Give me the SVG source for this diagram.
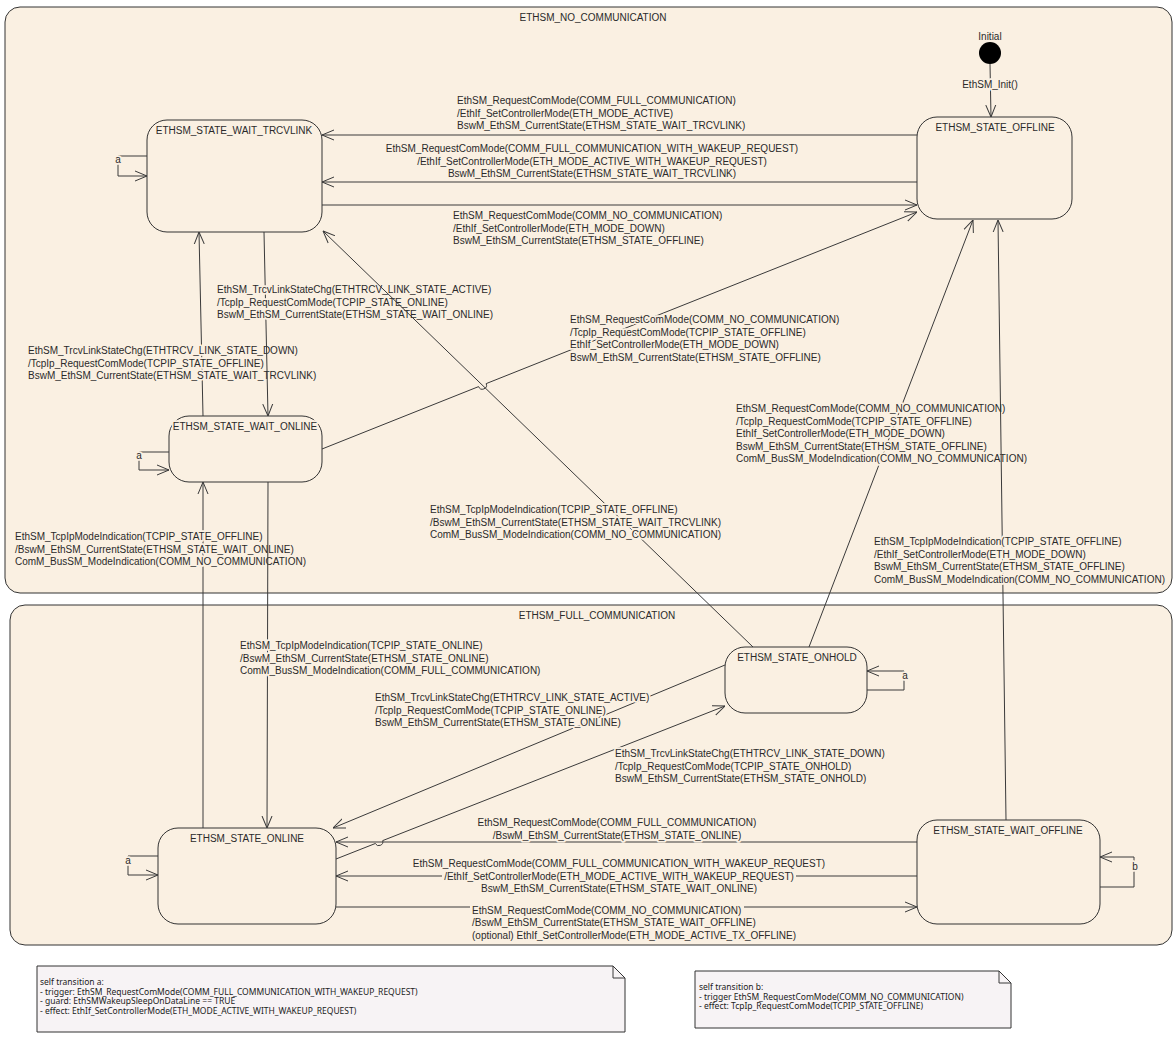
<svg xmlns="http://www.w3.org/2000/svg" width="1176" height="1042" viewBox="0 0 1176 1042">
<defs>
<style>
.comp{fill:#FAF0E2;stroke:#333;stroke-width:1}
.st{fill:#FAF0E2;stroke:#333;stroke-width:1}
.t{font-family:"Liberation Sans",Arial,sans-serif;font-size:10px;fill:#2a2a2a;paint-order:stroke;stroke:#FAF0E2;stroke-width:3.5px;stroke-linejoin:round}
.m{text-anchor:middle}
.e{fill:none;stroke:#3a3a3a;stroke-width:1}
.note{fill:#F7F3F5;stroke:#333;stroke-width:1}
.nt{font-family:"Noto Sans","Open Sans",sans-serif;font-size:8.5px;fill:#222}
</style>
<marker id="ar" viewBox="0 0 12 12" refX="12" refY="6" markerWidth="12" markerHeight="12" markerUnits="userSpaceOnUse" orient="auto">
<path d="M0,1 L12,6 L0,11" fill="none" stroke="#3a3a3a" stroke-width="1"/>
</marker>
</defs>
<rect width="1176" height="1042" fill="#fff"/>

<g id="ETHSM_NO_COMMUNICATION">
<rect class="comp" x="5" y="7" width="1167" height="586" rx="15"/>
<text class="t m" x="593" y="21">ETHSM_NO_COMMUNICATION</text>
</g>
<g id="ETHSM_FULL_COMMUNICATION">
<rect class="comp" x="10" y="605" width="1162" height="340" rx="15"/>
<text class="t m" x="597" y="619">ETHSM_FULL_COMMUNICATION</text>
</g>

<g id="Initial">
<circle cx="990" cy="53" r="11" fill="#000"/>
<text class="t m" x="990" y="40">Initial</text>
</g>
<g id="ETHSM_STATE_WAIT_TRCVLINK">
<rect class="st" x="147" y="120" width="175" height="112" rx="20"/>
<text class="t m" x="234" y="134">ETHSM_STATE_WAIT_TRCVLINK</text>
</g>
<g id="ETHSM_STATE_OFFLINE">
<rect class="st" x="917" y="117" width="155" height="102" rx="20"/>
<text class="t m" x="995" y="131">ETHSM_STATE_OFFLINE</text>
</g>
<g id="ETHSM_STATE_WAIT_ONLINE">
<rect class="st" x="169" y="416" width="153" height="66" rx="20"/>
<text class="t m" x="245" y="430">ETHSM_STATE_WAIT_ONLINE</text>
</g>
<g id="ETHSM_STATE_ONLINE">
<rect class="st" x="158" y="828" width="178" height="96" rx="20"/>
<text class="t m" x="247" y="842">ETHSM_STATE_ONLINE</text>
</g>
<g id="ETHSM_STATE_ONHOLD">
<rect class="st" x="725" y="647" width="142" height="66" rx="20"/>
<text class="t m" x="797" y="661">ETHSM_STATE_ONHOLD</text>
</g>
<g id="ETHSM_STATE_WAIT_OFFLINE">
<rect class="st" x="917" y="820" width="183" height="104" rx="20"/>
<text class="t m" x="1008" y="834">ETHSM_STATE_WAIT_OFFLINE</text>
</g>

<g id="connectors">
<path class="e" d="M990,64 L991,117" marker-end="url(#ar)"/>
<text class="t m" x="990" y="88">EthSM_Init()</text>

<path class="e" d="M917,135 L322,135" marker-end="url(#ar)"/>
<text class="t" x="457" y="104">EthSM_RequestComMode(COMM_FULL_COMMUNICATION)<tspan x="457" dy="12.5">/EthIf_SetControllerMode(ETH_MODE_ACTIVE)</tspan><tspan x="457" dy="12.5">BswM_EthSM_CurrentState(ETHSM_STATE_WAIT_TRCVLINK)</tspan></text>

<path class="e" d="M917,182 L322,182" marker-end="url(#ar)"/>
<text class="t m" x="592" y="152">EthSM_RequestComMode(COMM_FULL_COMMUNICATION_WITH_WAKEUP_REQUEST)<tspan x="592" dy="12.5">/EthIf_SetControllerMode(ETH_MODE_ACTIVE_WITH_WAKEUP_REQUEST)</tspan><tspan x="592" dy="12.5">BswM_EthSM_CurrentState(ETHSM_STATE_WAIT_TRCVLINK)</tspan></text>

<path class="e" d="M322,205 L917,205" marker-end="url(#ar)"/>
<text class="t" x="453" y="219">EthSM_RequestComMode(COMM_NO_COMMUNICATION)<tspan x="453" dy="12.5">/EthIf_SetControllerMode(ETH_MODE_DOWN)</tspan><tspan x="453" dy="12.5">BswM_EthSM_CurrentState(ETHSM_STATE_OFFLINE)</tspan></text>

<path class="e" d="M203,416 L199,232" marker-end="url(#ar)"/>
<text class="t" x="28" y="354">EthSM_TrcvLinkStateChg(ETHTRCV_LINK_STATE_DOWN)<tspan x="28" dy="12.5">/TcpIp_RequestComMode(TCPIP_STATE_OFFLINE)</tspan><tspan x="28" dy="12.5">BswM_EthSM_CurrentState(ETHSM_STATE_WAIT_TRCVLINK)</tspan></text>

<path class="e" d="M264,232 L268,416" marker-end="url(#ar)"/>
<text class="t" x="217" y="293">EthSM_TrcvLinkStateChg(ETHTRCV_LINK_STATE_ACTIVE)<tspan x="217" dy="12.5">/TcpIp_RequestComMode(TCPIP_STATE_ONLINE)</tspan><tspan x="217" dy="12.5">BswM_EthSM_CurrentState(ETHSM_STATE_WAIT_ONLINE)</tspan></text>

<path class="e" d="M753,647 L323,231" marker-end="url(#ar)"/>
<text class="t" x="430" y="513">EthSM_TcpIpModeIndication(TCPIP_STATE_OFFLINE)<tspan x="430" dy="12.5">/BswM_EthSM_CurrentState(ETHSM_STATE_WAIT_TRCVLINK)</tspan><tspan x="430" dy="12.5">ComM_BusSM_ModeIndication(COMM_NO_COMMUNICATION)</tspan></text>

<path class="e" d="M322,449 L478.6,386.6 A4,4 0 0 0 486.2,383.6 L917,212" marker-end="url(#ar)"/>
<text class="t" x="570" y="323">EthSM_RequestComMode(COMM_NO_COMMUNICATION)<tspan x="570" dy="12.5">/TcpIp_RequestComMode(TCPIP_STATE_OFFLINE)</tspan><tspan x="570" dy="12.5">EthIf_SetControllerMode(ETH_MODE_DOWN)</tspan><tspan x="570" dy="12.5">BswM_EthSM_CurrentState(ETHSM_STATE_OFFLINE)</tspan></text>

<path class="e" d="M809,647 L973,220" marker-end="url(#ar)"/>
<text class="t" x="736" y="412">EthSM_RequestComMode(COMM_NO_COMMUNICATION)<tspan x="736" dy="12.5">/TcpIp_RequestComMode(TCPIP_STATE_OFFLINE)</tspan><tspan x="736" dy="12.5">EthIf_SetControllerMode(ETH_MODE_DOWN)</tspan><tspan x="736" dy="12.5">BswM_EthSM_CurrentState(ETHSM_STATE_OFFLINE)</tspan><tspan x="736" dy="12.5">ComM_BusSM_ModeIndication(COMM_NO_COMMUNICATION)</tspan></text>

<path class="e" d="M1006,820 L998,220" marker-end="url(#ar)"/>
<text class="t" x="874" y="545">EthSM_TcpIpModeIndication(TCPIP_STATE_OFFLINE)<tspan x="874" dy="12.5">/EthIf_SetControllerMode(ETH_MODE_DOWN)</tspan><tspan x="874" dy="12.5">BswM_EthSM_CurrentState(ETHSM_STATE_OFFLINE)</tspan><tspan x="874" dy="12.5">ComM_BusSM_ModeIndication(COMM_NO_COMMUNICATION)</tspan></text>

<path class="e" d="M203,828 L203,482" marker-end="url(#ar)"/>
<text class="t" x="15" y="540">EthSM_TcpIpModeIndication(TCPIP_STATE_OFFLINE)<tspan x="15" dy="12.5">/BswM_EthSM_CurrentState(ETHSM_STATE_WAIT_ONLINE)</tspan><tspan x="15" dy="12.5">ComM_BusSM_ModeIndication(COMM_NO_COMMUNICATION)</tspan></text>

<path class="e" d="M268,482 L267,828" marker-end="url(#ar)"/>
<text class="t" x="240" y="649">EthSM_TcpIpModeIndication(TCPIP_STATE_ONLINE)<tspan x="240" dy="12.5">/BswM_EthSM_CurrentState(ETHSM_STATE_ONLINE)</tspan><tspan x="240" dy="12.5">ComM_BusSM_ModeIndication(COMM_FULL_COMMUNICATION)</tspan></text>

<path class="e" d="M725,665 L333,828" marker-end="url(#ar)"/>
<text class="t" x="375" y="701">EthSM_TrcvLinkStateChg(ETHTRCV_LINK_STATE_ACTIVE)<tspan x="375" dy="12.5">/TcpIp_RequestComMode(TCPIP_STATE_ONLINE)</tspan><tspan x="375" dy="12.5">BswM_EthSM_CurrentState(ETHSM_STATE_ONLINE)</tspan></text>

<path class="e" d="M336,859 L375.3,843.5 A4,4 0 0 0 382.7,840.6 L725,706" marker-end="url(#ar)"/>
<text class="t" x="615" y="757">EthSM_TrcvLinkStateChg(ETHTRCV_LINK_STATE_DOWN)<tspan x="615" dy="12.5">/TcpIp_RequestComMode(TCPIP_STATE_ONHOLD)</tspan><tspan x="615" dy="12.5">BswM_EthSM_CurrentState(ETHSM_STATE_ONHOLD)</tspan></text>

<path class="e" d="M917,842 L336,842" marker-end="url(#ar)"/>
<text class="t m" x="617" y="826">EthSM_RequestComMode(COMM_FULL_COMMUNICATION)<tspan x="617" dy="12.5">/BswM_EthSM_CurrentState(ETHSM_STATE_ONLINE)</tspan></text>

<path class="e" d="M917,876 H796 M442,876 H336" marker-end="url(#ar)"/>
<text class="t m" x="619" y="867">EthSM_RequestComMode(COMM_FULL_COMMUNICATION_WITH_WAKEUP_REQUEST)<tspan x="619" dy="12.5">/EthIf_SetControllerMode(ETH_MODE_ACTIVE_WITH_WAKEUP_REQUEST)</tspan><tspan x="619" dy="12.5">BswM_EthSM_CurrentState(ETHSM_STATE_WAIT_ONLINE)</tspan></text>

<path class="e" d="M336,907 H470 M744,907 H917" marker-end="url(#ar)"/>
<text class="t" x="472" y="913.5">EthSM_RequestComMode(COMM_NO_COMMUNICATION)<tspan x="472" dy="12.5">/BswM_EthSM_CurrentState(ETHSM_STATE_WAIT_OFFLINE)</tspan><tspan x="472" dy="12.5">(optional) EthIf_SetControllerMode(ETH_MODE_ACTIVE_TX_OFFLINE)</tspan></text>

<path class="e" d="M147,156 H118 V176 H147" marker-end="url(#ar)"/>
<text class="t m" x="118" y="163">a</text>
<path class="e" d="M169,452 H139 V470 H169" marker-end="url(#ar)"/>
<text class="t m" x="139" y="459">a</text>
<path class="e" d="M158,856 H128 V875 H158" marker-end="url(#ar)"/>
<text class="t m" x="128" y="864">a</text>
<path class="e" d="M867,690 H904 V671 H867" marker-end="url(#ar)"/>
<text class="t m" x="905" y="679">a</text>
<path class="e" d="M1100,887 H1134 V857 H1100" marker-end="url(#ar)"/>
<text class="t m" x="1135" y="870">b</text>
</g>

<g id="note_a">
<path class="note" d="M37,966 H613 L625,978 V1032 H37 Z"/>
<path class="e" d="M613,966 V978 H625"/>
<text class="nt" x="40" y="985">self transition a:<tspan x="40" dy="9.6">- trigger: EthSM_RequestComMode(COMM_FULL_COMMUNICATION_WITH_WAKEUP_REQUEST)</tspan><tspan x="40" dy="9.6">- guard: EthSMWakeupSleepOnDataLine == TRUE</tspan><tspan x="40" dy="9.6">- effect: EthIf_SetControllerMode(ETH_MODE_ACTIVE_WITH_WAKEUP_REQUEST)</tspan></text>
</g>
<g id="note_b">
<path class="note" d="M695,971 H999 L1011,983 V1028 H695 Z"/>
<path class="e" d="M999,971 V983 H1011"/>
<text class="nt" x="699" y="990">self transition b:<tspan x="699" dy="9.6">- trigger EthSM_RequestComMode(COMM_NO_COMMUNICATION)</tspan><tspan x="699" dy="9.6">- effect: TcpIp_RequestComMode(TCPIP_STATE_OFFLINE)</tspan></text>
</g>
</svg>
